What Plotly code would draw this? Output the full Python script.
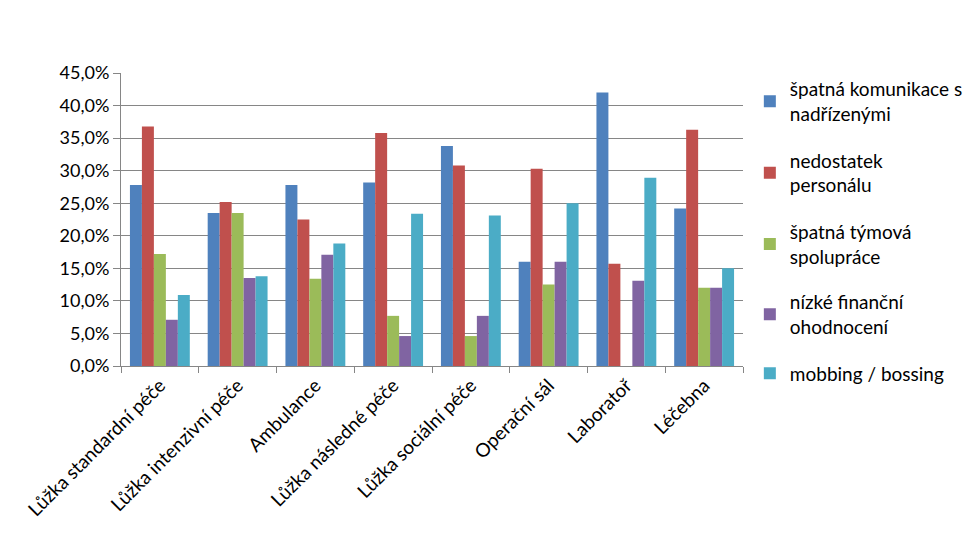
import plotly.graph_objects as go

categories = ["Lůžka standardní péče", "Lůžka intenzivní péče", "Ambulance",
              "Lůžka následné péče", "Lůžka sociální péče", "Operační sál",
              "Laboratoř", "Léčebna"]
series_names = ["špatná komunikace s<br>nadřízenými", "nedostatek<br>personálu",
                "špatná týmová<br>spolupráce", "nízké finanční<br>ohodnocení",
                "mobbing / bossing"]
komunikace = [0.278, 0.235, 0.278, 0.282, 0.338, 0.160, 0.420, 0.242]
personal = [0.368, 0.252, 0.225, 0.358, 0.308, 0.303, 0.157, 0.363]
tymova = [0.172, 0.235, 0.134, 0.077, 0.046, 0.125, 0.0, 0.120]
financni = [0.071, 0.135, 0.171, 0.046, 0.077, 0.160, 0.131, 0.120]
mobbing = [0.109, 0.138, 0.188, 0.234, 0.231, 0.250, 0.289, 0.150]
series_values = [komunikace, personal, tymova, financni, mobbing]
colors = ["#4F81BD", "#C0504D", "#9BBB59", "#8064A2", "#4BACC6"]
legend_ids = ["legend", "legend", "legend", "legend2", "legend2"]

fig = go.Figure()
for i, (name, vals, col, lg) in enumerate(zip(series_names, series_values, colors, legend_ids)):
    fig.add_trace(go.Bar(x=categories, y=vals, name=name, marker_color=col,
                         marker_line_width=0, legendgroup=str(i), legend=lg))

font_family = "Lato, 'Open Sans', sans-serif"
leg_common = dict(x=1.011, xanchor="left", yanchor="top", font=dict(size=19),
                  tracegroupgap=19, traceorder="grouped", bgcolor="rgba(0,0,0,0)")
fig.update_layout(
    width=980, height=541,
    margin=dict(l=121, r=235, t=73, b=175),
    paper_bgcolor="white", plot_bgcolor="white",
    barmode="group", bargap=0.23, bargroupgap=0,
    separators=", ",
    font=dict(family=font_family, size=19, color="#000000"),
    legend=dict(y=1.01, **leg_common),
    legend2=dict(y=0.283, **leg_common),
    xaxis=dict(tickangle=-45, showline=True, linecolor="#868686", linewidth=1,
               ticks="outside", tickson="boundaries", ticklen=6, tickcolor="#868686",
               tickfont=dict(size=19), showgrid=False),
    yaxis=dict(range=[0, 0.45], dtick=0.05, tickformat=".1%", showline=True,
               linecolor="#868686", linewidth=1, ticks="outside", ticklen=7,
               tickcolor="#868686", showgrid=True, gridcolor="#868686", gridwidth=1,
               tickfont=dict(size=18), zeroline=False),
)
fig.write_html("out.html")
